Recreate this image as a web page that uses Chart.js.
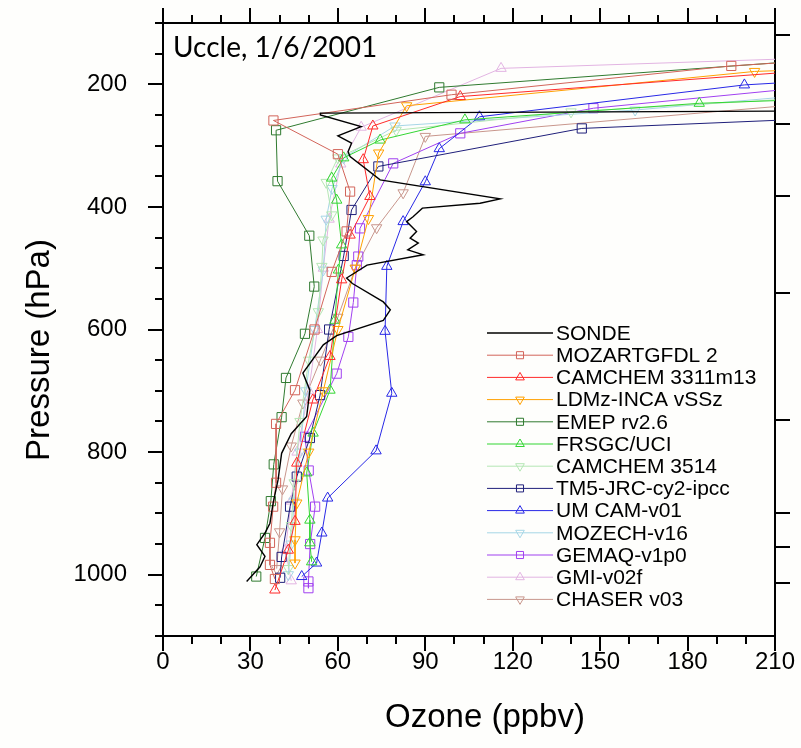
<!DOCTYPE html>
<html>
<head>
<meta charset="utf-8">
<script src="https://cdn.jsdelivr.net/npm/chart.js@4.4.1/dist/chart.umd.min.js"></script>
<style>
	html, body { margin: 0; padding: 0; background: #fefefc; }
	#wrap { width: 801px; height: 748px; }
</style>
</head>
<body>
<div id="wrap"><canvas id="profile" width="801" height="748"></canvas></div>
<script>
// axis ticks
const ozoneTicks = [0, 30, 60, 90, 120, 150, 180, 210];
const pressureTicks = [200, 400, 600, 800, 1000];
// right axis: altitude marks (0, 0.5, 1, 2.5, 5, 7.5, 10, 15 km) as pressure
const altitudeTickPressures = [1013, 955, 899, 747, 540, 383, 264, 120];

// profiles as [ozone ppbv, pressure hPa]
const sonde = [[300, 242], [54, 247], [54, 250], [68, 269], [60, 284], [64.7, 296], [63.5, 310], [64.2, 318],
	[74.5, 356], [115.7, 387], [108.8, 394], [89, 402], [85.8, 416], [83.6, 424], [87, 440], [84.8, 451],
	[87.6, 459], [84, 470], [89.3, 478], [70, 495], [63, 516], [65, 525], [75.6, 555], [78, 568],
	[75.6, 585], [59.6, 610], [55, 625], [48, 671], [50.4, 699], [49.3, 742], [44, 770], [40.7, 802],
	[39.5, 845], [37.8, 883], [36.7, 916], [35, 932], [32.2, 951], [35, 970], [33.3, 987], [28.7, 1011]];
const mozartGfdl = [[260, 150], [195, 170], [99, 217], [37.9, 259], [60, 314], [64.2, 375], [63, 440],
	[57.9, 506], [52, 600], [45.3, 699], [38.8, 754], [38.8, 850], [37.8, 889], [36.7, 948], [36.7, 984], [38.4, 1007]];
const camchem3311 = [[300, 150], [102, 220], [72, 268], [68.7, 323], [71, 383], [64.2, 446], [61.3, 519],
	[57.3, 644], [51.4, 715], [45.9, 818], [45.3, 913], [43, 960], [38.4, 1025]];
const ldmzInca = [[260, 170], [203, 179], [83.6, 235], [74, 312], [70.5, 419], [66, 500], [60, 600],
	[55, 700], [50, 800], [45.9, 883], [45.3, 943], [45.3, 981]];
const emep = [[300, 134], [94.8, 205], [38.8, 275], [39.3, 358], [50.2, 447], [51.9, 530], [48.7, 607],
	[42.2, 679], [40.7, 743], [38, 820], [37, 880], [35, 940], [32, 1003]];
const frsgc = [[280, 215], [184, 231], [103.6, 258], [74.5, 291], [62, 320], [57.9, 353], [59.6, 389],
	[61.3, 462], [60.2, 503], [59, 585], [57.3, 699], [51.5, 769], [49.3, 834], [50.4, 911], [50.4, 948], [51, 979]];
const camchem3514 = [[300, 200], [140, 245], [80, 275], [60, 320], [56, 360], [57.9, 413], [54.9, 454],
	[54.5, 497], [53.3, 571], [50, 650], [47, 750], [45, 850], [44, 920], [43, 990]];
const tm5 = [[280, 245], [143.7, 272], [73.9, 334], [64.7, 405], [62, 480], [57, 600], [53.9, 707],
	[50.4, 777], [45.9, 840], [43.6, 889], [40.7, 971], [40.2, 1005]];
const umCam = [[250, 187], [199.5, 201], [108.6, 253], [94.8, 305], [90, 359], [82.4, 424], [76.8, 497],
	[76.2, 603], [78.5, 704], [73.1, 798], [56.5, 875], [54.5, 932], [52.7, 981], [47.6, 1003]];
const mozech = [[300, 185], [162, 242], [79.6, 268], [62, 320], [58, 370], [56, 420], [55, 503], [52, 600],
	[49, 700], [47, 800], [45, 880], [44, 950], [43, 1000]];
const gemaq = [[260, 187], [147.7, 239], [102, 280], [79, 329], [67.6, 435], [67, 481], [66.5, 495],
	[65.3, 556], [63.6, 612], [59.6, 672], [48.7, 775], [50, 830], [52.2, 889], [50.5, 950], [49.9, 1011], [49.9, 1022]];
const gmi = [[300, 145], [116, 174], [68, 270], [61, 330], [57, 420], [55, 500], [53, 600], [50, 700],
	[46, 800], [44, 880], [42, 960], [44, 1010]];
const chaser = [[300, 200], [90, 285], [82.4, 377], [73.3, 434], [66, 500], [60, 580], [54, 650],
	[48, 720], [44, 790], [41, 860], [40, 930], [39, 990]];

const FONT = '"Liberation Sans", Arial, Helvetica, sans-serif';

function series(label, points, color, style, flip) {
	return {
		label: label,
		data: points.map(([x, y]) => ({ x: x, y: y })),
		borderColor: color,
		backgroundColor: "rgba(0,0,0,0)",
		borderWidth: 1,
		pointStyle: style || false,
		pointRotation: flip ? 180 : 0,
		pointRadius: style === "rect" ? 6.5 : 6,
		pointBorderWidth: 1,
		pointBorderColor: color,
		pointBackgroundColor: "rgba(0,0,0,0)",
		tension: 0,
	};
}

const datasets = [
	Object.assign(series("SONDE", sonde, "#000000", false), { borderWidth: 1.4, pointRadius: 0 }),
	series("MOZARTGFDL 2", mozartGfdl, "#d2645a", "rect"),
	series("CAMCHEM 3311m13", camchem3311, "#ff2a2a", "triangle"),
	series("LDMz-INCA vSSz", ldmzInca, "#ffa000", "triangle", true),
	series("EMEP rv2.6", emep, "#2f7a2f", "rect"),
	series("FRSGC/UCI", frsgc, "#33d633", "triangle"),
	series("CAMCHEM 3514", camchem3514, "#b4e6b4", "triangle", true),
	series("TM5-JRC-cy2-ipcc", tm5, "#1f1f7a", "rect"),
	series("UM CAM-v01", umCam, "#2828e6", "triangle"),
	series("MOZECH-v16", mozech, "#a6d6e6", "triangle", true),
	series("GEMAQ-v1p0", gemaq, "#a040f0", "rect"),
	series("GMI-v02f", gmi, "#e2b4e2", "triangle"),
	series("CHASER v03", chaser, "#c8968c", "triangle", true),
];

// tick marks, titles and the in-plot legend
const decorations = {
	id: "decorations",
	afterDraw(chart) {
		const ctx = chart.ctx;
		const area = chart.chartArea;
		const sx = chart.scales.x;
		const sy = chart.scales.y;
		ctx.save();
		ctx.strokeStyle = "#000";
		ctx.lineWidth = 2;
		ctx.beginPath();
		for (let v = 0; v <= 210; v += 10) {
			const px = Math.round(sx.getPixelForValue(v));
			const len = v % 30 === 0 ? 15 : 8;
			ctx.moveTo(px, area.bottom); ctx.lineTo(px, area.bottom + len);
			ctx.moveTo(px, area.top); ctx.lineTo(px, area.top - len);
		}
		for (let p = 100; p <= 1100; p += 50) {
			const py = Math.round(sy.getPixelForValue(p));
			const len = p % 200 === 0 ? 15 : 8;
			ctx.moveTo(area.left, py); ctx.lineTo(area.left - len, py);
		}
		altitudeTickPressures.forEach((p) => {
			const py = Math.round(sy.getPixelForValue(p));
			ctx.moveTo(area.right, py); ctx.lineTo(area.right + 15, py);
		});
		ctx.stroke();

		// axis titles
		ctx.fillStyle = "#000";
		ctx.font = "33px " + FONT;
		ctx.textAlign = "center";
		ctx.textBaseline = "middle";
		ctx.fillText("Ozone (ppbv)", 485, 718);
		ctx.save();
		ctx.translate(40, 350);
		ctx.rotate(-Math.PI / 2);
		ctx.fillText("Pressure (hPa)", 0, 0);
		ctx.restore();

		// station label
		ctx.font = "28px Lato, \"Open Sans\", sans-serif";
		ctx.textAlign = "left";
		ctx.textBaseline = "alphabetic";
		ctx.fillText("Uccle, 1/6/2001", 173, 57);

		// legend
		ctx.font = "21px " + FONT;
		ctx.textBaseline = "middle";
		chart.data.datasets.forEach((ds, i) => {
			const y = 333 + i * 22.2;
			ctx.strokeStyle = ds.borderColor;
			ctx.fillStyle = "rgba(0,0,0,0)";
			ctx.lineWidth = i === 0 ? 1.4 : 1;
			ctx.beginPath();
			ctx.moveTo(487, y); ctx.lineTo(553, y);
			ctx.stroke();
			if (ds.pointStyle) {
				Chart.helpers.drawPoint(ctx, {
					pointStyle: ds.pointStyle,
					rotation: ds.pointRotation,
					radius: 5,
					borderWidth: 1,
				}, 520, y);
			}
			ctx.fillStyle = "#000";
			ctx.fillText(ds.label, 556, y + 1);
		});
		ctx.restore();
	},
};

// pin each axis box to the reference frame (left 163, top 23, right 775, bottom 636)
const fixedBox = (size, dim) => (scale) => {
	scale[dim] = size;
	scale.paddingLeft = scale.paddingRight = scale.paddingTop = scale.paddingBottom = 0;
};

new Chart(document.getElementById("profile"), {
	type: "line",
	data: { datasets: datasets },
	options: {
		responsive: false,
		animation: false,
		layout: { padding: 0 },
		plugins: { legend: { display: false }, tooltip: { enabled: false } },
		scales: {
			x: {
				type: "linear", position: "bottom", min: 0, max: 210,
				afterBuildTicks: (s) => { s.ticks = ozoneTicks.map((v) => ({ value: v })); },
				afterFit: fixedBox(112, "height"),
				grid: { display: false, drawTicks: false },
				border: { display: true, color: "#000", width: 2 },
				ticks: { color: "#000", padding: 12, maxRotation: 0, font: { size: 24, family: FONT },
					callback: (v) => String(v) },
			},
			x2: {
				type: "linear", position: "top", min: 0, max: 210,
				afterFit: fixedBox(23, "height"),
				grid: { display: false, drawTicks: false },
				border: { display: true, color: "#000", width: 2 },
				ticks: { display: false },
			},
			y: {
				type: "linear", position: "left", min: 100, max: 1100, reverse: true,
				afterBuildTicks: (s) => { s.ticks = pressureTicks.map((v) => ({ value: v })); },
				afterFit: fixedBox(163, "width"),
				grid: { display: false, drawTicks: false },
				border: { display: true, color: "#000", width: 2 },
				ticks: { color: "#000", padding: 36, font: { size: 24, family: FONT },
					callback: (v) => String(v) },
			},
			y2: {
				type: "linear", position: "right", min: 100, max: 1100, reverse: true,
				afterFit: fixedBox(26, "width"),
				grid: { display: false, drawTicks: false },
				border: { display: true, color: "#000", width: 2 },
				ticks: { display: false },
			},
		},
	},
	plugins: [decorations],
});
</script>
</body>
</html>
